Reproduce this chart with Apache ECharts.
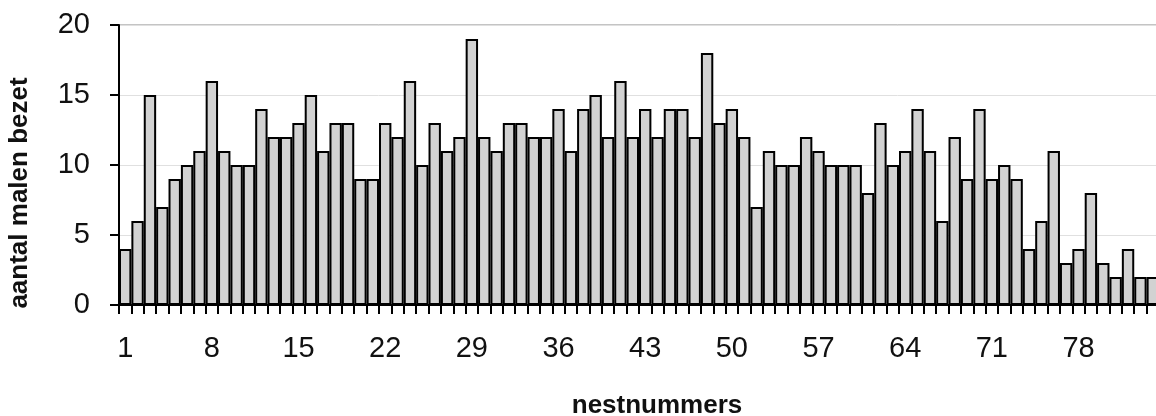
<!DOCTYPE html>
<html>
<head>
<meta charset="utf-8">
<script src="https://cdn.jsdelivr.net/npm/echarts@6/dist/echarts.min.js"></script>
<style>
html,body{margin:0;padding:0;background:#fff;}
#chart{width:1156px;height:416px;}
</style>
</head>
<body>
<div id="chart"></div>
<script>
var nestnummers = ['1','2','3','4','5','6','7','8','9','10','11','12','13','14','15','16','17','18','19','20',
  '21','22','23','24','25','26','27','28','29','30','31','32','33','34','35','36','37','38','39','40',
  '41','42','43','44','45','46','47','48','49','50','51','52','53','54','55','56','57','58','59','60',
  '61','62','63','64','65','66','67','68','69','70','71','72','73','74','75','76','77','78','79','80',
  '81','82','83','84'];
var aantalMalenBezet = [4,6,15,7,9,10,11,16,11,10,10,14,12,12,13,15,11,13,13,9,
  9,13,12,16,10,13,11,12,19,12,11,13,13,12,12,14,11,14,15,12,
  16,12,14,12,14,14,12,18,13,14,12,7,11,10,10,12,11,10,10,10,
  8,13,10,11,14,11,6,12,9,14,9,10,9,4,6,11,3,4,8,3,
  2,4,2,2];
var yTicks = [0, 5, 10, 15, 20];

var chart = echarts.init(document.getElementById('chart'));
var font = '"Liberation Sans", Arial, sans-serif';
chart.setOption({
  animation: false,
  backgroundColor: '#ffffff',
  grid: {
    left: 119, top: 25, bottom: 111, right: -3,
    containLabel: false,
    outerBoundsMode: 'none',
    show: true, borderColor: '#888', borderWidth: 1, backgroundColor: 'transparent'
  },
  xAxis: {
    type: 'category',
    data: nestnummers,
    boundaryGap: true,
    name: 'nestnummers',
    nameLocation: 'middle',
    nameGap: 88,
    nameTextStyle: { fontFamily: font, fontWeight: 'bold', fontSize: 26, color: '#111', padding: [0, 0, 0, 36] },
    axisLine: { show: true, lineStyle: { color: '#000', width: 2 } },
    axisTick: { show: true, interval: 0, length: 9, lineStyle: { color: '#000', width: 2 } },
    axisLabel: { interval: 6, margin: 29, fontFamily: font, fontSize: 29, color: '#111' },
    splitLine: { show: false }
  },
  yAxis: {
    type: 'value',
    min: yTicks[0], max: yTicks[yTicks.length - 1], interval: 5,
    name: 'aantal malen bezet',
    nameLocation: 'middle',
    nameGap: 86,
    nameRotate: 90,
    nameTextStyle: { fontFamily: font, fontWeight: 'bold', fontSize: 26, color: '#111', padding: [0, 56, 0, 0] },
    axisLine: { show: true, lineStyle: { color: '#000', width: 2 } },
    axisTick: { show: true, length: 9, lineStyle: { color: '#000', width: 2 } },
    axisLabel: { margin: 29, fontFamily: font, fontSize: 29, color: '#111' },
    splitLine: { show: true, lineStyle: { color: '#e0e0e0', width: 1 } }
  },
  series: [{
    type: 'bar',
    data: aantalMalenBezet,
    barCategoryGap: '0%',
    itemStyle: { color: '#d2d2d2', borderColor: '#000', borderWidth: 2 }
  }]
});
</script>
</body>
</html>
